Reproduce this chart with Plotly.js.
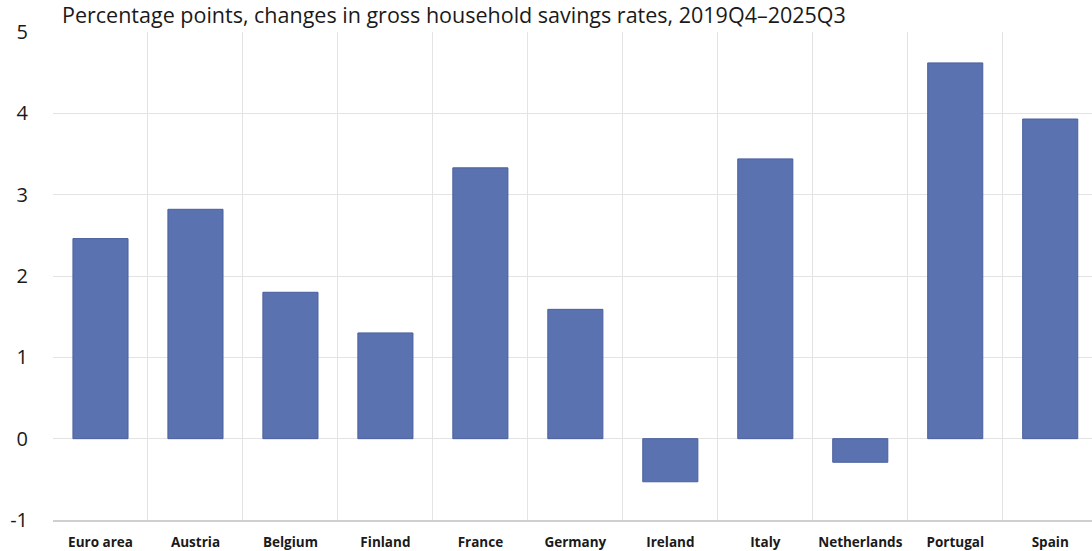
<!DOCTYPE html>
<html>
<head>
<meta charset="utf-8">
<script src="https://cdn.plot.ly/plotly-3.0.1.min.js"></script>
<style>html,body{margin:0;padding:0;background:#fff;}#chart{width:1092px;height:551px;}</style>
</head>
<body>
<div id="chart"></div>
<script>
const categories = ["Euro area","Austria","Belgium","Finland","France","Germany","Ireland","Italy","Netherlands","Portugal","Spain"];
const values = [2.46, 2.82, 1.80, 1.30, 3.33, 1.59, -0.53, 3.44, -0.29, 4.62, 3.93];
const yTicks = [-1, 0, 1, 2, 3, 4, 5];
const titleText = "Percentage points, changes in gross household savings rates, 2019Q4–2025Q3";

const trace = {
  type: 'bar',
  x: categories,
  y: values,
  marker: {color: '#5b72b0', line: {color: '#4a5f9e', width: 1}},
  hoverinfo: 'x+y'
};

const layout = {
  width: 1092, height: 551,
  margin: {l: 53, r: 0, t: 32, b: 31},
  paper_bgcolor: '#fff', plot_bgcolor: '#fff',
  bargap: 0.42,
  showlegend: false,
  title: {
    text: titleText,
    font: {family: 'Open Sans, sans-serif', size: 21.5, color: '#1a1a1a'},
    xref: 'container', x: 62/1092, xanchor: 'left',
    yref: 'container', y: 1 - 15/551, yanchor: 'middle'
  },
  xaxis: {
    type: 'category',
    range: [-0.5, 10.44],
    tickson: 'boundaries',
    showgrid: true, gridcolor: '#e3e3e3', gridwidth: 1,
    showline: true, linecolor: '#cfcfcf', linewidth: 2,
    ticks: '', ticklabelstandoff: 9,
    tickfont: {family: 'Open Sans, sans-serif', size: 13.5, color: '#1a1a1a', weight: 'bold'},
    fixedrange: true
  },
  yaxis: {
    range: [-1, 5],
    tickvals: yTicks,
    ticktext: yTicks.map(String),
    showgrid: true, gridcolor: '#e3e3e3', gridwidth: 1,
    zeroline: false,
    showline: false,
    ticks: '', ticklabelstandoff: 24,
    tickfont: {family: 'Open Sans, sans-serif', size: 20, color: '#1a1a1a'},
    fixedrange: true
  }
};

Plotly.newPlot('chart', [trace], layout, {displayModeBar: false, staticPlot: true});
</script>
</body>
</html>
